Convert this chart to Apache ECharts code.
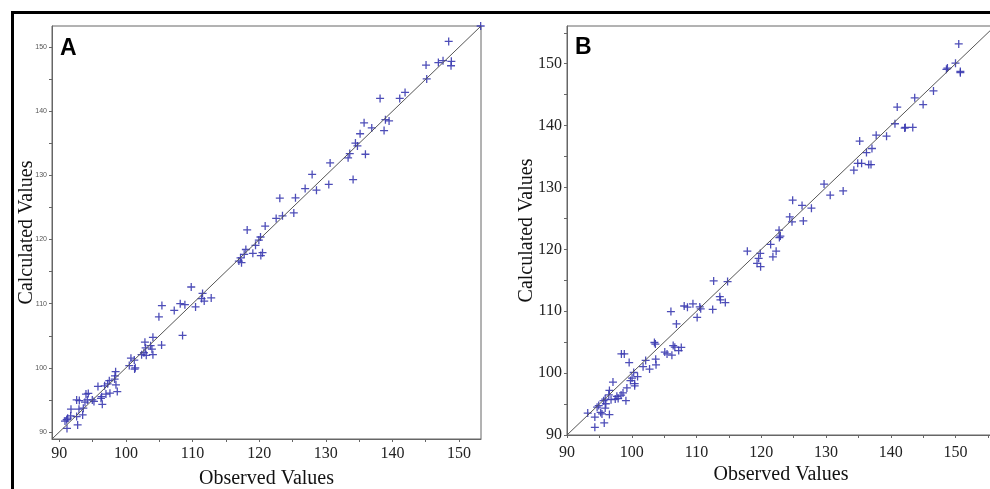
<!DOCTYPE html>
<html><head><meta charset="utf-8">
<script src="https://cdn.jsdelivr.net/npm/echarts@6/dist/echarts.min.js"></script>
<style>html,body{margin:0;padding:0;background:#fff}#c{width:990px;height:489px}</style>
</head><body><div id="c"></div>
<script>
// Panel A data
const obsA = [153.25,148.45,145.05,145.15,146.9,147.6,148.85,148.8,138.15,141.1,141.9,135.75,136.9,138.95,139.5,138.75,135.15,134.45,134.75,135.95,133.6,133.35,134.1,130.65,130.45,127.95,126.9,128.6,123.1,125.45,125.2,123.5,122.55,118.2,120.9,120.2,119.95,119.45,119.05,120.5,120.25,118.0,117.75,117.2,116.95,117.35,109.8,111.5,111.35,111.75,112.8,110.45,108.15,108.85,107.25,105.4,104.95,108.5,105.35,104.05,102.85,103.7,102.95,103.9,102.7,102.35,104.05,103.05,100.75,101.25,100.5,101.4,101.3,98.45,98.35,98.3,98.5,98.7,97.5,97.25,96.8,95.8,97.6,97.0,96.35,96.25,96.45,95.2,94.95,94.35,94.0,94.2,93.85,92.6,93.0,93.6,92.95,91.75,93.5,92.6,92.75,91.7,91.25,91.1,90.85,91.15];
const calcA = [153.3,150.9,147.2,145.05,147.6,147.9,147.8,147.1,142.0,142.0,142.95,138.2,137.4,138.7,138.5,137.0,136.5,135.05,134.6,133.3,133.4,132.75,129.35,131.95,128.6,130.15,127.95,127.7,126.45,126.5,124.15,123.7,123.3,121.5,122.1,120.4,119.9,119.1,117.85,117.95,117.5,118.45,117.7,117.15,116.65,116.4,112.6,111.6,110.8,110.4,110.9,109.5,110.0,109.85,108.95,109.7,107.95,105.05,103.55,104.75,104.0,103.45,103.1,102.9,102.35,102.05,102.05,101.95,101.5,101.2,100.35,100.0,99.8,99.4,98.75,98.25,97.35,96.3,98.0,97.5,97.2,97.1,96.05,95.9,95.5,95.25,94.3,94.75,95.0,96.0,95.9,95.0,94.65,95.0,94.9,93.7,93.55,93.55,92.65,92.4,91.1,92.5,92.15,91.9,91.7,90.55];
// Panel B data
const obsB = [150.5,150.0,148.75,148.6,150.75,150.75,143.7,145.0,146.6,141.0,140.65,142.25,142.15,143.4,137.75,139.35,135.2,137.1,136.25,134.9,135.5,136.6,136.95,134.3,129.7,130.65,132.65,124.85,126.3,127.75,126.5,124.4,124.75,122.75,122.95,122.8,121.45,122.3,121.8,117.85,119.85,119.6,119.35,119.9,112.65,114.8,113.6,113.7,114.45,112.5,108.1,108.6,109.45,110.5,110.65,110.1,106.05,106.9,103.5,103.65,106.4,106.65,107.65,107.25,105.1,105.45,106.2,103.7,102.15,103.75,101.75,102.75,98.4,98.85,99.6,100.3,100.05,100.9,99.8,100.45,100.45,97.1,99.25,98.65,98.35,97.7,97.9,97.45,99.1,96.55,96.45,96.8,95.9,95.65,96.0,94.9,94.65,95.9,95.2,95.4,96.55,93.2,94.3,95.75,94.3];
const calcB = [153.2,150.1,149.3,149.1,148.75,148.55,144.5,143.4,145.6,143.0,140.3,139.7,139.6,139.7,138.45,138.3,137.5,136.3,135.65,133.9,133.9,133.7,133.7,132.8,130.55,128.75,129.45,127.95,127.1,126.65,124.6,125.25,124.45,123.1,122.15,121.9,120.8,119.7,118.8,119.7,119.35,118.55,117.75,117.2,114.9,114.8,112.35,111.85,111.4,110.3,110.85,110.65,111.2,110.7,110.4,109.0,109.95,107.95,104.95,104.7,104.45,104.2,104.15,103.65,103.4,103.1,102.9,102.25,102.05,101.35,101.05,100.65,103.1,103.1,101.7,100.1,99.2,99.45,98.8,98.3,97.95,98.55,97.6,96.8,96.45,96.25,95.9,95.8,95.55,97.2,96.5,95.7,95.8,95.55,95.05,94.75,94.5,94.35,93.65,93.4,93.3,93.55,92.9,91.95,91.25];
// Axis ranges and ticks
const rangeA = [88.9, 153.3];
const rangeB = [90, 156.1];
const majorTicks = [90,100,110,120,130,140,150];
const minorTicks = [90,95,100,105,110,115,120,125,130,135,140,145,150,155];
const xTitle = 'Observed Values';
const yTitle = 'Calculated Values';

const pairs = (xs, ys) => xs.map((x, i) => [x, ys[i]]);
const axisGrey = '#666';
const serif = 'Liberation Serif';

function axis(gridIndex, range, labelFont, labelSize, labelColor, margin, name, nameGap) {
  return {
    type: 'value', gridIndex, min: range[0], max: range[1],
    name, nameLocation: 'middle', nameGap, nameMoveOverlap: false,
    nameTextStyle: {fontFamily: serif, fontSize: 20, color: '#111'},
    axisLine: {show: true, lineStyle: {color: axisGrey, width: 1}},
    axisTick: {show: true, length: 3, lineStyle: {color: axisGrey}, customValues: minorTicks.filter(v => v >= range[0] && v <= range[1])},
    axisLabel: {customValues: majorTicks, fontFamily: labelFont, fontSize: labelSize, color: labelColor, margin},
    splitLine: {show: false}
  };
}

const plusPath = 'path://M4.2,0 H5.8 V4.2 H10 V5.8 H5.8 V10 H4.2 V5.8 H0 V4.2 H4.2 Z';
const markerColor = '#3a3ab0';

const option = {
  animation: false,
  backgroundColor: '#fff',
  grid: [
    {left: 52, top: 26, width: 429, height: 413, show: true, borderColor: axisGrey, borderWidth: 1, backgroundColor: 'transparent', outerBoundsMode: 'none'},
    {left: 567, top: 26, width: 428, height: 409, show: true, borderColor: axisGrey, borderWidth: 1, backgroundColor: 'transparent', outerBoundsMode: 'none'}
  ],
  xAxis: [
    axis(0, rangeA, serif, 16, '#222', 7, xTitle, 30),
    axis(1, rangeB, serif, 16, '#222', 10, xTitle, 30)
  ],
  yAxis: [
    axis(0, rangeA, 'Liberation Sans', 7, '#555', 5, yTitle, 15),
    axis(1, rangeB, serif, 16, '#222', 5, yTitle, 30)
  ],
  title: [
    {text: 'A', left: 60, top: 37, textStyle: {fontFamily: 'Liberation Sans', fontWeight: 'bold', fontSize: 23, color: '#000'}, padding: 0},
    {text: 'B', left: 575, top: 36, textStyle: {fontFamily: 'Liberation Sans', fontWeight: 'bold', fontSize: 23, color: '#000'}, padding: 0}
  ],
  graphic: [
    {type: 'rect', shape: {x: 12.5, y: 12.5, width: 1100, height: 600}, style: {fill: 'none', stroke: '#000', lineWidth: 3}, silent: true, z: 100}
  ],
  series: [
    {type: 'line', xAxisIndex: 0, yAxisIndex: 0, data: [[rangeA[0], rangeA[0]], [rangeA[1], rangeA[1]]], symbol: 'none', lineStyle: {color: '#555', width: 1}, silent: true},
    {type: 'scatter', xAxisIndex: 0, yAxisIndex: 0, data: pairs(obsA, calcA), symbol: plusPath, symbolSize: 8, itemStyle: {color: markerColor, opacity: 0.9}, clip: false},
    {type: 'line', xAxisIndex: 1, yAxisIndex: 1, data: [[rangeB[0], rangeB[0]], [rangeB[1], rangeB[1]]], symbol: 'none', lineStyle: {color: '#555', width: 1}, silent: true},
    {type: 'scatter', xAxisIndex: 1, yAxisIndex: 1, data: pairs(obsB, calcB), symbol: plusPath, symbolSize: 8, itemStyle: {color: markerColor, opacity: 0.9}, clip: false}
  ]
};
const chart = echarts.init(document.getElementById('c'), null, {renderer: 'canvas'});
chart.setOption(option);
</script>
</body></html>
